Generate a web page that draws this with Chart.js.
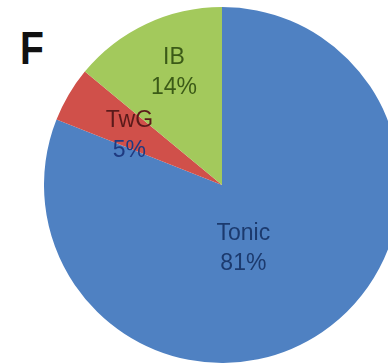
<!DOCTYPE html>
<html>
<head>
<meta charset="utf-8">
<script src="https://cdn.jsdelivr.net/npm/chart.js@4"></script>
<style>
  html, body { margin: 0; padding: 0; background: #fff; overflow: hidden; width: 388px; height: 364px; }
  #panel { position: absolute; left: 20px; top: 21px; font: bold 46px "Liberation Sans", Arial, sans-serif; color: #111; transform: scaleX(0.85); transform-origin: left top; }
  #wrap { position: absolute; left: 44px; top: 7px; width: 356px; height: 356px; }
</style>
</head>
<body>
<div id="panel">F</div>
<div id="wrap"><canvas id="myChart"></canvas></div>
<script>
const categories = ['Tonic', 'TwG', 'IB'];
const percents = [81, 5, 14];
const colors = ['#4f81c2', '#d0504a', '#a3c95c'];
// label colours per line: name, percent
const textColors = [['#1c3a6e', '#1c3a6e'], ['#5a1a1a', '#1f3a80'], ['#3b5a17', '#3b5a17']];
// label centre, in units of the pie radius from its centre
const labelOffsets = [[0.12, 0.36], [-0.52, -0.28], [-0.27, -0.63]];

const pieLabels = {
  id: 'pieLabels',
  afterDatasetsDraw(chart) {
    const c = chart.ctx;
    const meta = chart.getDatasetMeta(0);
    c.save();
    c.font = '23px "Liberation Sans", Arial, sans-serif';
    c.textAlign = 'center';
    c.textBaseline = 'middle';
    meta.data.forEach((arc, i) => {
      const r = arc.outerRadius;
      const x = arc.x + labelOffsets[i][0] * r;
      const y = arc.y + labelOffsets[i][1] * r;
      c.fillStyle = textColors[i][0];
      c.fillText(categories[i], x, y - 15);
      c.fillStyle = textColors[i][1];
      c.fillText(percents[i] + '%', x, y + 15);
    });
    c.restore();
  }
};

const ctx = document.getElementById('myChart');
let chart = new Chart(ctx, {
  type: 'pie',
  data: {
    labels: categories,
    datasets: [{
      data: percents,
      backgroundColor: colors,
      borderWidth: 0
    }]
  },
  options: {
    maintainAspectRatio: false,
    animation: false,
    layout: { padding: 0 },
    plugins: {
      legend: false,
      tooltip: { enabled: false }
    }
  },
  plugins: [pieLabels]
});
</script>
</body>
</html>
